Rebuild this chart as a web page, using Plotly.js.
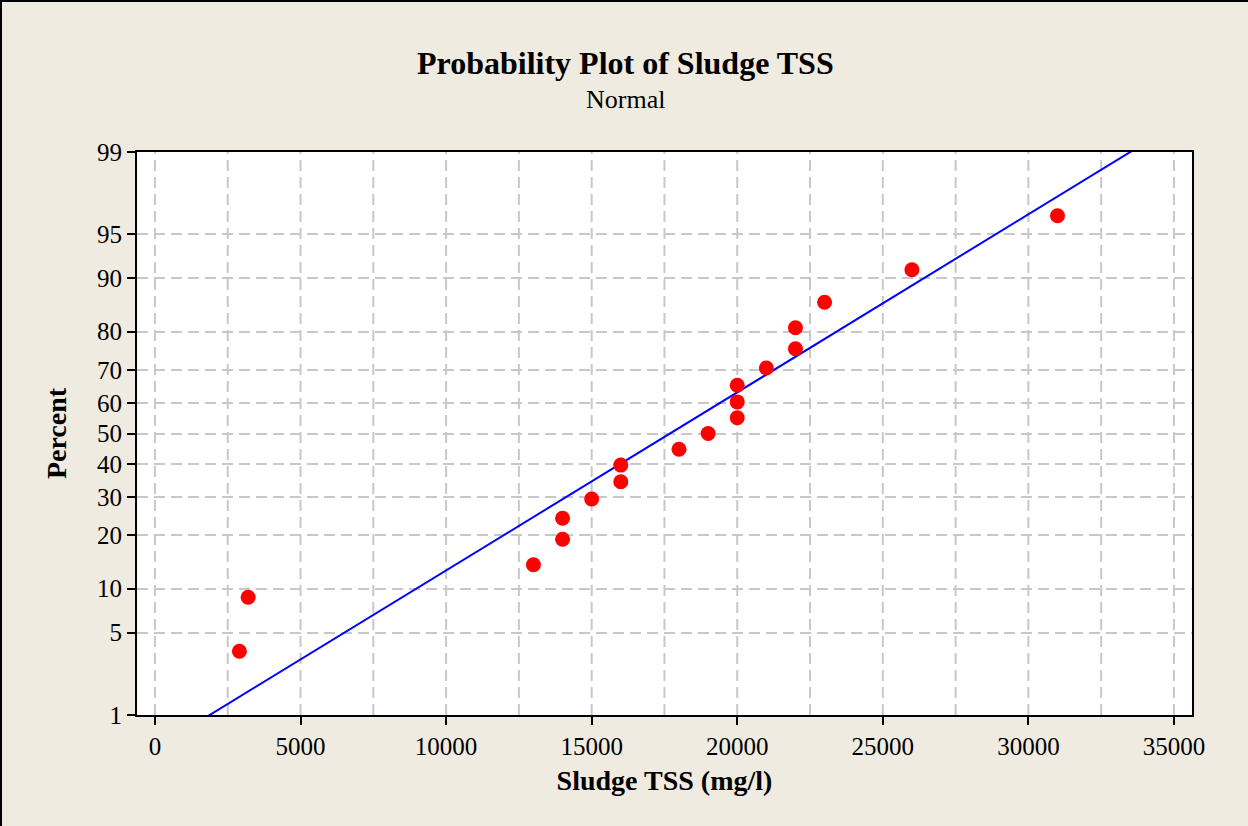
<!DOCTYPE html>
<html>
<head>
<meta charset="utf-8">
<script src="https://cdn.plot.ly/plotly-3.0.1.min.js"></script>
<style>
html,body{margin:0;padding:0;background:#EFEBE1;}
#wrap{position:relative;width:1248px;height:826px;}
#chart{width:1248px;height:826px;}
#frame{position:absolute;left:0;top:0;width:1248px;height:826px;border-top:2px solid #000;border-left:2px solid #000;box-sizing:border-box;pointer-events:none;}
</style>
</head>
<body>
<div id="wrap"><div id="chart"></div><div id="frame"></div></div>
<script>
// Data
const sludgeTSS = [2900, 3200, 13000, 14000, 14000, 15000, 16000, 16000, 18000, 19000,
                   20000, 20000, 20000, 21000, 22000, 22000, 23000, 26000, 31000];
const percentPlotted = [3.6, 8.8, 13.9, 19.1, 24.2, 29.4, 34.5, 39.7, 44.8, 50.0,
                        55.2, 60.3, 65.5, 70.6, 75.8, 80.9, 86.1, 91.2, 96.4];
const percentTicks = [1, 5, 10, 20, 30, 40, 50, 60, 70, 80, 90, 95, 99];
const xTicks = [0, 5000, 10000, 15000, 20000, 25000, 30000, 35000];
const xGrid = [0, 2500, 5000, 7500, 10000, 12500, 15000, 17500, 20000, 22500, 25000, 27500, 30000, 32500, 35000];

// inverse normal CDF (Acklam)
function qnorm(p){
  const a=[-3.969683028665376e+01,2.209460984245205e+02,-2.759285104469687e+02,1.383577518672690e+02,-3.066479806614716e+01,2.506628277459239e+00];
  const b=[-5.447609879822406e+01,1.615858368580409e+02,-1.556989798598866e+02,6.680131188771972e+01,-1.328068155288572e+01];
  const c=[-7.784894002430293e-03,-3.223964580411365e-01,-2.400758277161838e+00,-2.549732539343734e+00,4.374664141464968e+00,2.938163982698783e+00];
  const d=[7.784695709041462e-03,3.224671290700398e-01,2.445134137142996e+00,3.754408661907416e+00];
  const pl=0.02425, ph=1-pl; let q,r;
  if(p<pl){q=Math.sqrt(-2*Math.log(p));return (((((c[0]*q+c[1])*q+c[2])*q+c[3])*q+c[4])*q+c[5])/((((d[0]*q+d[1])*q+d[2])*q+d[3])*q+1);}
  if(p<=ph){q=p-0.5;r=q*q;return (((((a[0]*r+a[1])*r+a[2])*r+a[3])*r+a[4])*r+a[5])*q/(((((b[0]*r+b[1])*r+b[2])*r+b[3])*r+b[4])*r+1);}
  q=Math.sqrt(-2*Math.log(1-p));return -(((((c[0]*q+c[1])*q+c[2])*q+c[3])*q+c[4])*q+c[5])/((((d[0]*q+d[1])*q+d[2])*q+d[3])*q+1);
}

const n = sludgeTSS.length;
const mean = sludgeTSS.reduce((s,v)=>s+v,0)/n;
const sd = Math.sqrt(sludgeTSS.reduce((s,v)=>s+(v-mean)*(v-mean),0)/(n-1));
const zLo = qnorm(0.01), zHi = qnorm(0.99);

const ptsY = percentPlotted.map(p=>qnorm(p/100));
const fitZ = [zLo-0.1, 0, zHi+0.1];
const fitX = fitZ.map(z=>mean+z*sd);

const F = 'Liberation Serif, Times New Roman, serif';
const GRID_DASH = '11px,6px';

const traces = [
  {x: fitX, y: fitZ, mode:'lines', line:{color:'#0000FF', width:2}, hoverinfo:'skip', showlegend:false},
  {x: sludgeTSS, y: ptsY, mode:'markers', marker:{color:'#FF0000', size:15}, showlegend:false}
];

const layout = {
  width:1248, height:826,
  paper_bgcolor:'#EFEBE1', plot_bgcolor:'#FFFFFF',
  margin:{l:137, r:56, t:152, b:111},
  font:{family:F, color:'#000'},
  xaxis:{
    range:[-617, 35620], tickvals:xTicks, ticktext:xTicks.map(String),
    ticks:'outside', ticklen:8, tickwidth:2, tickcolor:'#000',
    showline:true, linecolor:'#000', linewidth:2, mirror:true,
    showgrid:false, zeroline:false,
    tickfont:{family:F, size:25, color:'#000'},
    title:{text:'<b>Sludge TSS (mg/l)</b>', font:{family:F, size:28, color:'#000'}, standoff:11}
  },
  yaxis:{
    range:[zLo, zHi], tickvals:percentTicks.map(p=>qnorm(p/100)), ticktext:percentTicks.map(String),
    ticks:'outside', ticklen:8, tickwidth:2, tickcolor:'#000',
    showline:true, linecolor:'#000', linewidth:2, mirror:true,
    showgrid:true, gridcolor:'#C8C8C8', griddash:GRID_DASH, gridwidth:2, zeroline:false,
    tickfont:{family:F, size:25, color:'#000'},
    title:{text:'<b>Percent</b>', font:{family:F, size:28, color:'#000'}, standoff:22}
  },
  shapes: xGrid.map(v=>({
    type:'line', xref:'x', yref:'paper', x0:v, x1:v, y0:0, y1:1, layer:'below',
    line:{color:'#C8C8C8', width:2, dash:GRID_DASH}
  })),
  annotations:[
    {text:'<b>Probability Plot of Sludge TSS</b>', xref:'paper', yref:'paper', x:0.463, y:1, yshift:89, xanchor:'center', yanchor:'middle', showarrow:false, font:{family:F, size:32, color:'#000'}},
    {text:'Normal', xref:'paper', yref:'paper', x:0.463, y:1, yshift:53, xanchor:'center', yanchor:'middle', showarrow:false, font:{family:F, size:26, color:'#000'}}
  ]
};

Plotly.newPlot('chart', traces, layout, {displayModeBar:false, staticPlot:true});
</script>
</body>
</html>
